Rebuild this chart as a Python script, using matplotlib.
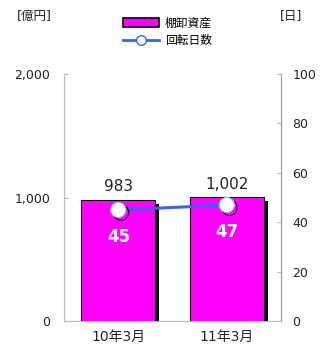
import matplotlib
matplotlib.use("Agg")
import matplotlib.pyplot as plt
import matplotlib.patheffects as pe
from matplotlib.lines import Line2D
from matplotlib.patches import Patch

plt.rcParams['font.family'] = ['DejaVu Sans', 'Noto Sans CJK JP']

categories = ["10年3月", "11年3月"]
inventory = [983, 1002]          # 棚卸資産 (億円)
turnover_days = [45, 47]         # 回転日数 (日)
inventory_labels = ["983", "1,002"]
left_ticks = [0, 1000, 2000]
left_tick_labels = ["0", "1,000", "2,000"]
right_ticks = [0, 20, 40, 60, 80, 100]

bar_color = "#ff00ff"
line_color = "#3366ee"
axis_color = "#bbbbbb"

fig = plt.figure(figsize=(3.22, 3.56), dpi=100)
ax = fig.add_axes([0.199, 0.098, 0.674, 0.694])
ax2 = ax.twinx()

x = list(range(len(categories)))
shadow = [pe.SimplePatchShadow(offset=(3, -3), shadow_rgbFace="black", alpha=1.0), pe.Normal()]
ax.bar(x, inventory, width=0.68, color=bar_color, edgecolor="black", linewidth=0.8,
       path_effects=shadow, zorder=2)
ax.set_xlim(-0.5, 1.5)
ax.set_ylim(0, 2000)
ax.set_yticks(left_ticks)
ax.set_yticklabels(left_tick_labels)
ax.set_xticks(x)
ax.set_xticklabels(categories)

for xi, v, lab in zip(x, inventory, inventory_labels):
    ax.annotate(lab, (xi, v), xytext=(0, 4), textcoords="offset points",
                ha="center", va="bottom", fontsize=11, color="#222222")

ax2.set_ylim(0, 100)
ax2.set_yticks(right_ticks)
ax2.plot(x, turnover_days, color=line_color, linewidth=2.2, zorder=3)
ax2.plot(x, turnover_days, linestyle="none", marker="o", markersize=11,
         markerfacecolor="white", markeredgecolor="#99aadd", markeredgewidth=0.8,
         path_effects=[pe.SimpleLineShadow(offset=(2, -2), shadow_color="black", alpha=1.0), pe.Normal()],
         zorder=4)
for xi, v in zip(x, turnover_days):
    ax2.annotate(str(v), (xi, v), xytext=(0, -13), textcoords="offset points",
                 ha="center", va="top", fontsize=12, fontweight="bold", color="white")

for a in (ax, ax2):
    a.spines["top"].set_visible(False)
    for s in ("left", "right", "bottom"):
        a.spines[s].set_color(axis_color)
    a.tick_params(colors=axis_color, labelcolor="#222222", labelsize=9, direction="in", length=3)
ax.tick_params(axis="x", length=0, labelsize=10, pad=6)
ax.tick_params(axis="y", pad=10)
ax2.tick_params(axis="y", pad=8)
ax2.spines["right"].set_color("#999999")

fig.text(0.053, 0.955, "[億円]", fontsize=9, ha="left", va="center", color="#222222")
fig.text(0.87, 0.955, "[日]", fontsize=9, ha="left", va="center", color="#222222")

handles = [Patch(facecolor=bar_color, edgecolor="black", linewidth=1.2),
           Line2D([], [], color=line_color, linewidth=2, marker="o", markersize=7,
                  markerfacecolor="white", markeredgecolor=line_color)]
fig.legend(handles, ["棚卸資産", "回転日数"], loc="upper center", bbox_to_anchor=(0.52, 0.97),
           frameon=False, fontsize=8.5, handlelength=3.0, handletextpad=0.5,
           labelspacing=0.35, borderpad=0)

fig.savefig("out.png", dpi=100)
